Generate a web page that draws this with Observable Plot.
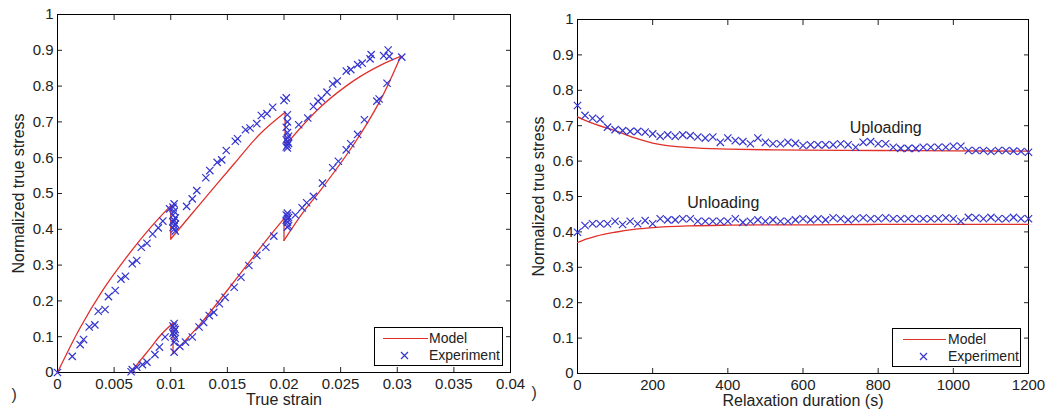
<!DOCTYPE html>
<html><head><meta charset="utf-8">
<script src="https://cdn.jsdelivr.net/npm/d3@7"></script>
<script src="https://cdn.jsdelivr.net/npm/@observablehq/plot@0.6"></script>
<style>
body{margin:0;background:#fff;font-family:"Liberation Sans",Arial,sans-serif;}
#wrap{position:relative;width:1047px;height:414px;overflow:hidden;background:#fff;}
.panel{position:absolute;top:0;}
.legend{position:absolute;box-sizing:border-box;border:1px solid #000;background:#fff;font-size:14px;color:#222;width:129px;height:39px;}
.legend .ln{position:absolute;height:0;border-top:1.3px solid #e0302a;}
.legend .tx{position:absolute;line-height:16px;}
.legend svg{position:absolute;}
</style></head><body><div id="wrap"></div><script>
// ---------- Left panel data: true strain vs normalized true stress ----------
const strainTicks = [0,0.005,0.01,0.015,0.02,0.025,0.03,0.035,0.04];
const strainTickLabels = ["0","0.005","0.01","0.015","0.02","0.025","0.03","0.035","0.04"];
const stressTicks = [0,0.1,0.2,0.3,0.4,0.5,0.6,0.7,0.8,0.9,1];
const stressTickLabels = ["0","0.1","0.2","0.3","0.4","0.5","0.6","0.7","0.8","0.9","1"];

const modelStrain = [0,0.002,0.004,0.006,0.008,0.0100, 0.0100,0.0100, 0.0100,0.0126,0.0156,0.0179,0.0201, 0.0201,0.0201,
  0.0201,0.0232,0.0262,0.0285,0.0303, 0.0303,0.0285,0.0262,0.0232,0.0217,0.0200, 0.0200,0.0200,
  0.0200,0.0185,0.0155,0.0126,0.0102, 0.0102,0.0102, 0.0102,0.0091,0.0082,0.0073,0.0065];
const modelStress = [0,0.125,0.23,0.318,0.397,0.466, 0.466,0.373, 0.373,0.471,0.583,0.667,0.727, 0.727,0.634,
  0.634,0.741,0.816,0.858,0.883, 0.883,0.76,0.639,0.508,0.448,0.369, 0.369,0.43,
  0.43,0.372,0.25,0.135,0.053, 0.053,0.138, 0.138,0.104,0.068,0.033,0];
const modelSeg = [0,0,0,0,0,0, 1,1, 2,2,2,2,2, 3,3, 4,4,4,4,4, 5,5,5,5,5,5, 6,6, 7,7,7,7,7, 8,8, 9,9,9,9,9];

const expStrain = [0,0.0013,0.002,0.0023,0.0028,0.0033,0.0036,0.0042,0.0045,0.0051,0.0056,0.006,0.0066,0.007,0.0074,0.0079,0.0084,0.0089,0.0093,0.0099,0.0103,
  0.0102,0.0103,0.0102,0.0104,0.0103,0.0102,0.0104,0.0103,0.0102,0.0103,0.0104,
  0.0114,0.0119,0.0123,0.0131,0.01345,0.0141,0.0145,0.0149,0.0157,0.0159,0.0166,0.017,0.0176,0.018,0.0185,0.019,0.02,0.0202,
  0.0203,0.0203,0.0202,0.0203,0.0204,0.0203,0.0202,0.0203,0.0204,0.0203,0.0202,0.0203,
  0.0213,0.0221,0.0226,0.023,0.0233,0.0238,0.0243,0.0247,0.0255,0.0259,0.0265,0.0269,0.0276,0.0277,0.0288,0.0292,0.0293,0.0304,
  0.0291,0.0284,0.0282,0.0271,0.0265,0.0259,0.0255,0.0248,0.0243,0.0234,0.0226,0.022,0.0216,0.021,
  0.0203,0.0202,0.0203,0.0204,0.0203,0.0202,0.0203,0.0204,
  0.0203,0.0191,0.0184,0.0176,0.0169,0.0162,0.0156,0.0148,0.0143,0.0138,0.0134,0.0129,0.0125,0.0119,0.0113,0.0108,0.0103,
  0.0103,0.0102,0.0103,0.0104,0.0103,0.0102,0.0103,0.0104,0.0103,
  0.0095,0.009,0.0086,0.0079,0.0075,0.007,0.0066,0.0065];
const expStress = [0,0.045,0.078,0.092,0.127,0.133,0.171,0.176,0.212,0.229,0.261,0.269,0.304,0.313,0.35,0.361,0.387,0.404,0.423,0.457,0.471,
  0.462,0.45,0.44,0.432,0.425,0.42,0.415,0.41,0.405,0.40,0.395,
  0.464,0.485,0.508,0.544,0.564,0.587,0.594,0.62,0.646,0.653,0.678,0.683,0.695,0.718,0.723,0.741,0.76,0.767,
  0.72,0.70,0.685,0.67,0.66,0.655,0.65,0.645,0.64,0.635,0.63,0.627,
  0.692,0.711,0.743,0.758,0.766,0.783,0.806,0.814,0.842,0.846,0.86,0.864,0.876,0.888,0.885,0.901,0.883,0.881,
  0.808,0.764,0.758,0.706,0.665,0.639,0.622,0.59,0.572,0.529,0.492,0.474,0.46,0.44,
  0.445,0.44,0.437,0.433,0.43,0.425,0.42,0.41,
  0.406,0.381,0.35,0.327,0.299,0.266,0.238,0.21,0.192,0.168,0.159,0.14,0.127,0.099,0.085,0.073,0.057,
  0.137,0.13,0.125,0.12,0.115,0.11,0.105,0.095,0.085,
  0.099,0.071,0.05,0.029,0.022,0.015,0.008,0.002];

// ---------- Right panel data: relaxation duration vs normalized true stress ----------
const timeTicks = [0,200,400,600,800,1000,1200];
const timeTickLabels = ["0","200","400","600","800","1000","1200"];
const relaxTime = [0,20,40,60,80,100,120,140,160,180,200,220,240,260,280,300,320,340,360,380,400,420,440,460,480,500,520,540,560,580,
  600,620,640,660,680,700,720,740,760,780,800,820,840,860,880,900,920,940,960,980,1000,1020,1040,1060,1080,1100,1120,1140,1160,1180,1200];
const uploadExp = [0.757,0.729,0.721,0.718,0.696,0.689,0.686,0.684,0.684,0.682,
  0.677,0.670,0.674,0.670,0.674,0.672,0.668,0.665,0.668,0.653,
  0.665,0.658,0.655,0.649,0.665,0.653,0.649,0.649,0.653,0.650,
  0.644,0.646,0.646,0.646,0.646,0.649,0.646,0.639,0.653,0.655,
  0.649,0.649,0.639,0.636,0.636,0.636,0.639,0.639,0.639,0.639,
  0.642,0.642,0.630,0.630,0.630,0.627,0.630,0.630,0.628,0.627,0.625];
const unloadExp = [0.399,0.418,0.423,0.423,0.423,0.430,0.421,0.430,0.423,0.432,
  0.423,0.437,0.434,0.434,0.437,0.437,0.430,0.430,0.430,0.430,
  0.430,0.437,0.427,0.430,0.434,0.430,0.434,0.430,
  0.430,0.434,0.437,0.434,0.437,0.434,0.440,0.437,0.434,0.437,
  0.440,0.437,0.437,0.440,0.437,0.437,0.437,0.437,0.437,0.437,
  0.437,0.440,0.437,0.430,0.441,0.440,0.437,0.441,0.437,0.437,
  0.441,0.437,0.437];
const modelTime = [0,25,50,100,150,200,300,400,500,600,800,1000,1200];
const uploadModel = [0.725,0.713,0.703,0.686,0.666,0.651,0.638,0.634,0.632,0.631,0.630,0.629,0.628];
const unloadModel = [0.370,0.380,0.388,0.399,0.407,0.412,0.417,0.419,0.420,0.420,0.421,0.421,0.421];
const annotations = [{t: 820, s: 0.695, label: "Uploading"}, {t: 388, s: 0.483, label: "Unloading"}];

const RED = "#e0302a", BLUE = "#3535d0", FONT = "'Liberation Sans', Arial, sans-serif";

function panel({width, ml, mr, mt, mb, xDomain, xTicks, xLabels, xTitle, lines, points, extra = [], capDy}) {
  const fmtX = d => xLabels[xTicks.indexOf(d)];
  const fmtY = d => stressTickLabels[stressTicks.indexOf(d)];
  return Plot.plot({
    width, height: 414, marginLeft: ml, marginRight: mr, marginTop: mt, marginBottom: mb,
    style: {fontFamily: FONT, fontSize: "15px", color: "#222", background: "transparent", overflow: "visible"},
    x: {domain: xDomain}, y: {domain: [0, 1]},
    marks: [
      Plot.axisX({ticks: xTicks, tickFormat: fmtX, tickSize: -5, tickPadding: 11, label: null, fontSize: 15}),
      Plot.axisX({anchor: "top", ticks: xTicks, tickFormat: () => "", tickSize: -5, label: null}),
      Plot.axisY({ticks: stressTicks, tickFormat: fmtY, tickSize: -5, tickPadding: 9, label: null, fontSize: 15}),
      Plot.axisY({anchor: "right", ticks: stressTicks, tickFormat: () => "", tickSize: -5, label: null}),
      Plot.frame({stroke: "#000", strokeWidth: 1}),
      ...lines,
      ...points,
      ...extra,
      Plot.text([xTitle], {text: d => d, frameAnchor: "bottom", textAnchor: "middle", dy: 32, fontSize: 16, fill: "#222"}),
      Plot.text(["Normalized true stress"], {text: d => d, frameAnchor: "left", textAnchor: "middle", rotate: -90, dx: -39, fontSize: 16, fill: "#222"}),
      Plot.text([")"], {text: d => d, frameAnchor: "bottom-left", dx: -46, dy: capDy, fontSize: 16, fill: "#333"})
    ]
  });
}

const leftModel = modelStrain.map((x, i) => ({x, y: modelStress[i], seg: modelSeg[i]}));
const leftExp = expStrain.map((x, i) => ({x, y: expStress[i]}));

const left = panel({
  width: 520, ml: 57, mr: 10, mt: 14, mb: 42,
  xDomain: [0, 0.04], xTicks: strainTicks, xLabels: strainTickLabels, xTitle: "True strain", capDy: 27,
  lines: [Plot.line(leftModel, {x: "x", y: "y", z: "seg", stroke: RED, strokeWidth: 1.3, curve: "catmull-rom"})],
  points: [Plot.dot(leftExp, {x: "x", y: "y", symbol: "times", r: 3.4, stroke: BLUE, strokeWidth: 1.2})]
});

const rightModel = [
  ...modelTime.map((t, i) => ({t, s: uploadModel[i], k: "up"})),
  ...modelTime.map((t, i) => ({t, s: unloadModel[i], k: "un"}))
];
const rightExp = [
  ...relaxTime.map((t, i) => ({t, s: uploadExp[i]})),
  ...relaxTime.map((t, i) => ({t, s: unloadExp[i]}))
];

const right = panel({
  width: 527, ml: 57, mr: 19, mt: 19, mb: 41,
  xDomain: [0, 1200], xTicks: timeTicks, xLabels: timeTickLabels, xTitle: "Relaxation duration (s)", capDy: 24,
  lines: [Plot.line(rightModel, {x: "t", y: "s", z: "k", stroke: RED, strokeWidth: 1.3, curve: "monotone-x"})],
  points: [Plot.dot(rightExp, {x: "t", y: "s", symbol: "times", r: 3.4, stroke: BLUE, strokeWidth: 1.2})],
  extra: [Plot.text(annotations, {x: "t", y: "s", text: "label", fontSize: 16, fill: "#222"})]
});

const wrap = document.getElementById("wrap");
left.classList.add("panel"); left.style.left = "0px";
right.classList.add("panel"); right.style.left = "520px";
wrap.appendChild(right); wrap.appendChild(left);

function legend(lx, ly, lineX0, lineX1, textX, crossX) {
  const d = document.createElement("div");
  d.className = "legend";
  d.style.left = lx + "px"; d.style.top = ly + "px";
  d.innerHTML = `<div class="ln" style="left:${lineX0}px;width:${lineX1 - lineX0}px;top:10px"></div>
    <div class="tx" style="left:${textX}px;top:2px">Model</div>
    <svg width="9" height="9" style="left:${crossX - 4.5}px;top:22.5px"><path d="M1,1L8,8M8,1L1,8" stroke="${BLUE}" stroke-width="1.2"/></svg>
    <div class="tx" style="left:${textX}px;top:19px">Experiment</div>`;
  wrap.appendChild(d);
}
legend(374, 327, 8, 53, 54, 29);
legend(892, 328, 10, 53, 55, 30);
</script></body></html>
